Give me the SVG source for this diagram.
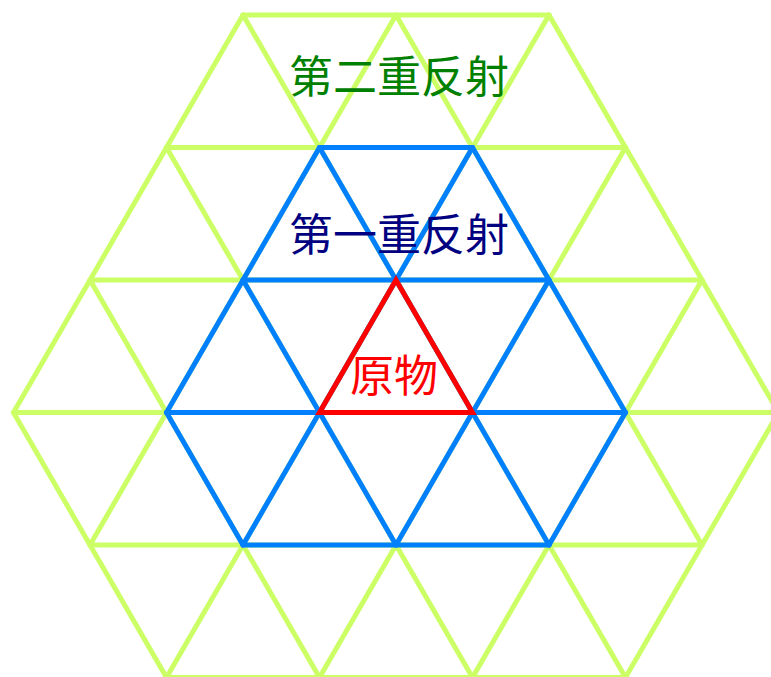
<svg xmlns="http://www.w3.org/2000/svg" width="771" height="677" viewBox="0 0 771 677">
<style>
.g{stroke:#ccff66;stroke-width:5;fill:none;stroke-linecap:round}
.b{stroke:#0080ff;stroke-width:5;fill:none;stroke-linecap:round}
.r{stroke:#ff0000;stroke-width:5;fill:none;stroke-linejoin:miter}
.t{font-family:"Noto Sans CJK SC","Noto Sans CJK JP",sans-serif;font-size:44px;text-anchor:middle}
</style>
<rect width="771" height="677" fill="#ffffff"/>
<g id="connectors">
<g id="second-reflection-grid" class="g">
<line x1="243" y1="15" x2="549" y2="15"/>
<line x1="166.5" y1="147.5" x2="625.5" y2="147.5"/>
<line x1="90" y1="280" x2="702" y2="280"/>
<line x1="13.5" y1="412.5" x2="778.5" y2="412.5"/>
<line x1="90" y1="545" x2="702" y2="545"/>
<line x1="166.5" y1="677.5" x2="625.5" y2="677.5"/>
<line x1="243" y1="15" x2="625.5" y2="677.5"/>
<line x1="396" y1="15" x2="702" y2="545"/>
<line x1="549" y1="15" x2="778.5" y2="412.5"/>
<line x1="166.5" y1="147.5" x2="472.5" y2="677.5"/>
<line x1="90" y1="280" x2="319.5" y2="677.5"/>
<line x1="13.5" y1="412.5" x2="166.5" y2="677.5"/>
<line x1="549" y1="15" x2="166.5" y2="677.5"/>
<line x1="396" y1="15" x2="90" y2="545"/>
<line x1="243" y1="15" x2="13.5" y2="412.5"/>
<line x1="625.5" y1="147.5" x2="319.5" y2="677.5"/>
<line x1="702" y1="280" x2="472.5" y2="677.5"/>
<line x1="778.5" y1="412.5" x2="625.5" y2="677.5"/>
</g>
<g id="first-reflection-grid" class="b">
<line x1="319.5" y1="147.5" x2="472.5" y2="147.5"/>
<line x1="243" y1="280" x2="549" y2="280"/>
<line x1="166.5" y1="412.5" x2="625.5" y2="412.5"/>
<line x1="243" y1="545" x2="549" y2="545"/>
<line x1="319.5" y1="147.5" x2="549" y2="545"/>
<line x1="243" y1="280" x2="396" y2="545"/>
<line x1="166.5" y1="412.5" x2="243" y2="545"/>
<line x1="472.5" y1="147.5" x2="625.5" y2="412.5"/>
<line x1="472.5" y1="147.5" x2="243" y2="545"/>
<line x1="549" y1="280" x2="396" y2="545"/>
<line x1="625.5" y1="412.5" x2="549" y2="545"/>
<line x1="319.5" y1="147.5" x2="166.5" y2="412.5"/>
</g>
</g>
<g id="original">
<polygon class="r" points="396,280 319.5,412.5 472.5,412.5"/>
<text class="t" x="394" y="392" fill="#ff0000">原物</text>
</g>
<g id="label-first">
<text class="t" x="399" y="251" fill="#000080">第一重反射</text>
</g>
<g id="label-second">
<text class="t" x="399" y="93" fill="#008000">第二重反射</text>
</g>
</svg>
